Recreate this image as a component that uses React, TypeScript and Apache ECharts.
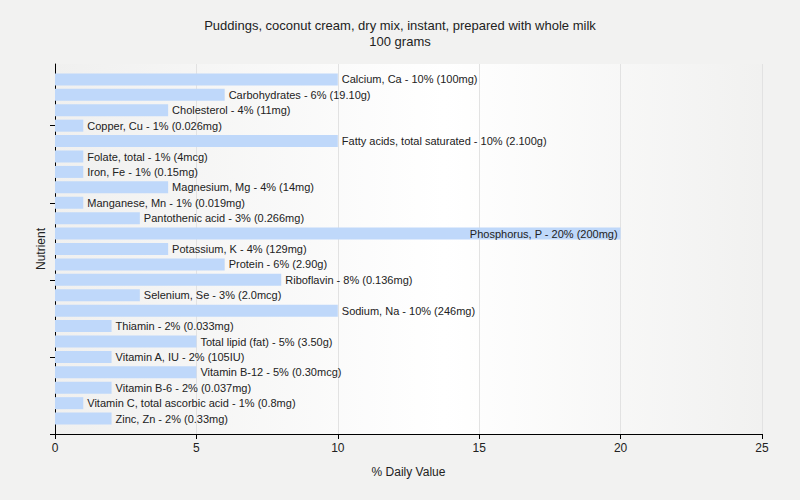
import React, { useEffect, useRef } from "react";
import * as echarts from "echarts";

const titleLines = ["Puddings, coconut cream, dry mix, instant, prepared with whole milk", "100 grams"];
const nutrients = [
  "Calcium, Ca", "Carbohydrates", "Cholesterol", "Copper, Cu", "Fatty acids, total saturated",
  "Folate, total", "Iron, Fe", "Magnesium, Mg", "Manganese, Mn", "Pantothenic acid",
  "Phosphorus, P", "Potassium, K", "Protein", "Riboflavin", "Selenium, Se",
  "Sodium, Na", "Thiamin", "Total lipid (fat)", "Vitamin A, IU", "Vitamin B-12",
  "Vitamin B-6", "Vitamin C, total ascorbic acid", "Zinc, Zn",
];
const dailyValues = [10, 6, 4, 1, 10, 1, 1, 4, 1, 3, 20, 4, 6, 8, 3, 10, 2, 5, 2, 5, 2, 1, 2];
const amounts = [
  "100mg", "19.10g", "11mg", "0.026mg", "2.100g", "4mcg", "0.15mg", "14mg", "0.019mg", "0.266mg",
  "200mg", "129mg", "2.90g", "0.136mg", "2.0mcg", "246mg", "0.033mg", "3.50g", "105IU", "0.30mcg",
  "0.037mg", "0.8mg", "0.33mg",
];
const xTicks = [0, 5, 10, 15, 20, 25];

const FONT = "'Liberation Sans', Arial, sans-serif";
const TEXT = "#222222";

export default function App() {
  const ref = useRef<HTMLDivElement>(null);
  useEffect(() => {
    if (!ref.current) return;
    const chart = echarts.init(ref.current, null, { renderer: "svg" });
    // padded categories give the empty margin above and below the bars
    const cats = [" ", ...nutrients, "  "];
    const labelText = (i: number) => `${nutrients[i]} - ${dailyValues[i]}% (${amounts[i]})`;
    const xMax = xTicks[xTicks.length - 1];
    const data = nutrients.map((n, i) => {
      const inside = dailyValues[i] >= 15;
      return {
        value: [dailyValues[i], n],
        label: {
          position: inside ? "insideRight" : "right",
          distance: inside ? 3 : 4,
          formatter: labelText(i),
        },
      };
    });
    chart.setOption({
      animation: false,
      backgroundColor: "#f2f2f1",
      textStyle: { fontFamily: FONT },
      title: {
        text: titleLines.join("\n"),
        left: "center",
        top: 12,
        textStyle: { fontSize: 13, fontWeight: "normal", color: TEXT, lineHeight: 16, fontFamily: FONT },
      },
      grid: {
        left: 55,
        right: 38,
        top: 64,
        bottom: 66,
        show: true,
        borderWidth: 0,
        backgroundColor: {
          type: "linear",
          x: 0, y: 0, x2: 1, y2: 0,
          colorStops: [
            { offset: 0, color: "#f0f0ef" },
            { offset: 0.55, color: "#ffffff" },
            { offset: 1, color: "#f1f1f0" },
          ],
        },
      },
      xAxis: {
        type: "value",
        min: xTicks[0],
        max: xMax,
        interval: 5,
        name: "% Daily Value",
        nameLocation: "middle",
        nameGap: 32,
        nameTextStyle: { fontSize: 12, color: TEXT, fontFamily: FONT },
        axisLine: { show: true, lineStyle: { color: "#000", width: 1 } },
        axisTick: { show: true, length: 5, lineStyle: { color: "#000" } },
        axisLabel: { fontSize: 12, color: TEXT, margin: 8, fontFamily: FONT },
        splitLine: { show: true, lineStyle: { color: "#e2e2e2", width: 1 } },
      },
      yAxis: {
        type: "category",
        data: cats,
        inverse: true,
        boundaryGap: false,
        name: "Nutrient",
        nameLocation: "middle",
        nameGap: 8,
        nameTextStyle: { fontSize: 12, color: TEXT, fontFamily: FONT },
        axisLine: { show: true, lineStyle: { color: "#000", width: 1 } },
        axisTick: {
          show: true,
          length: 5,
          lineStyle: { color: "#000" },
          interval: (index: number) => (index + 1) % 5 === 0,
        },
        axisLabel: { show: false },
        splitLine: { show: false },
      },
      series: [
        {
          type: "bar",
          barWidth: 12,
          itemStyle: { color: "#bfd8fa" },
          label: {
            show: true,
            fontSize: 11,
            color: TEXT,
            fontFamily: FONT,
          },
          data,
        },
      ],
    });
    return () => chart.dispose();
  }, []);
  return (
    <div
      ref={ref}
      style={{ position: "absolute", left: 0, top: 0, width: 800, height: 500 }}
    />
  );
}
